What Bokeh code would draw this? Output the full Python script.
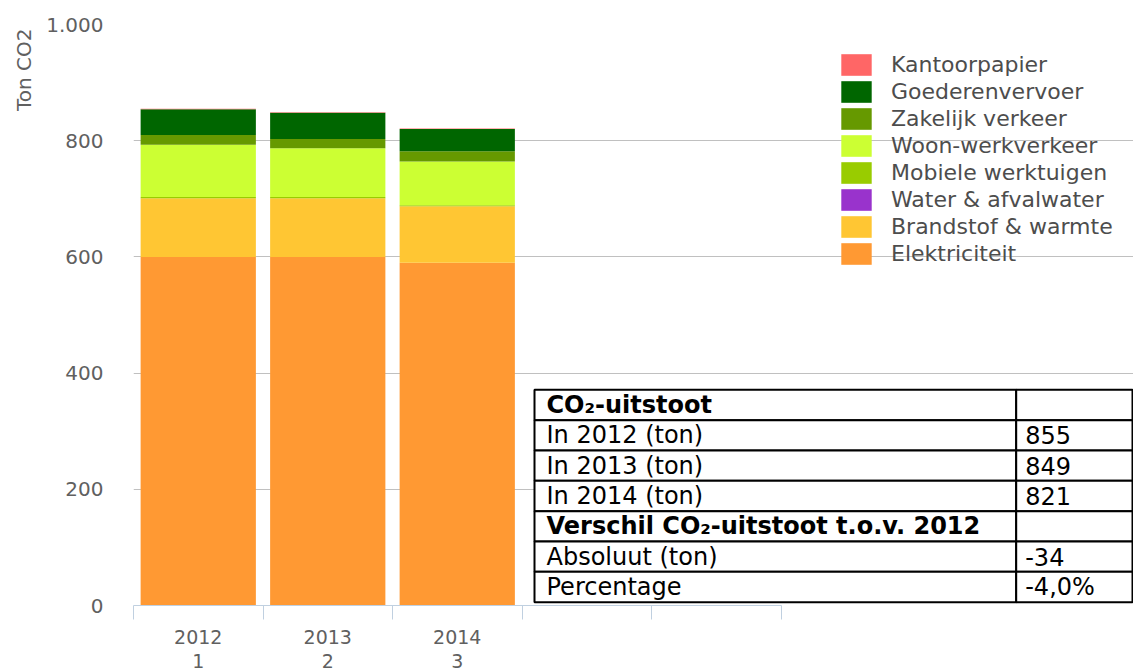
from bokeh.plotting import figure
from bokeh.models import (Range1d, FixedTicker, Legend, LegendItem, ColumnDataSource,
                          LinearAxis, Title)
from bokeh.core.properties import value
from bokeh.embed import file_html
from bokeh.resources import INLINE

# ---------------- data ----------------
years = ["2012", "2013", "2014"]
year_numbers = ["1", "2", "3"]
n_slots = 5

series = ["Elektriciteit", "Brandstof & warmte", "Water & afvalwater", "Mobiele werktuigen",
          "Woon-werkverkeer", "Zakelijk verkeer", "Goederenvervoer", "Kantoorpapier"]
elektriciteit = [600, 600, 590]
brandstof = [101, 101, 97]
water = [0, 0, 0]
mobiele = [2, 2, 2]
woon_werk = [90, 84, 75]
zakelijk = [17, 16, 18]
goederen = [44, 45, 38]
kantoorpapier = [1, 1, 1]
colors = ["#FF9933", "#FFC633", "#9933CC", "#99CC00",
          "#CCFF33", "#669900", "#006600", "#FF6666"]

y_ticks = [0, 200, 400, 600, 800, 1000]
y_tick_labels = ["0", "200", "400", "600", "800", "1.000"]
y_title = "Ton CO2"

table_labels = ["CO₂-uitstoot", "In 2012 (ton)", "In 2013 (ton)", "In 2014 (ton)",
                "Verschil CO₂-uitstoot t.o.v. 2012", "Absoluut (ton)", "Percentage"]
table_values = ["", "855", "849", "821", "", "-34", "-4,0%"]
table_bold = [True, False, False, False, True, False, False]

# ---------------- layout ----------------
W, H = 1133, 670
FRAME_L, FRAME_T = 133, 24
FRAME_B = 606
FRAME_H = FRAME_B - FRAME_T
PX_PER_CAT = 129.5
X_END = (W - FRAME_L) / PX_PER_CAT
Y_MAX = 1000
FONT = "DejaVu Sans"
AXIS_GREY = "#C0D0E0"
TEXT_GREY = "#606060"


def dx(px):
    return (px - FRAME_L) / PX_PER_CAT


def dy(py):
    return (FRAME_B - py) / FRAME_H * Y_MAX


p = figure(width=W, height=H, output_backend="svg", toolbar_location=None,
           x_range=Range1d(0, X_END), y_range=Range1d(0, Y_MAX),
           min_border_left=FRAME_L, min_border_top=FRAME_T,
           min_border_bottom=H - FRAME_B, min_border_right=0)
p.outline_line_color = None
p.background_fill_color = "white"

# bars
x_pos = [i + 0.5 for i in range(len(years))]
src = ColumnDataSource(dict(x=x_pos, **{
    "Elektriciteit": elektriciteit, "Brandstof & warmte": brandstof,
    "Water & afvalwater": water, "Mobiele werktuigen": mobiele,
    "Woon-werkverkeer": woon_werk, "Zakelijk verkeer": zakelijk,
    "Goederenvervoer": goederen, "Kantoorpapier": kantoorpapier}))
renderers = p.vbar_stack(series, x="x", width=0.89, source=src, color=colors,
                         line_color=None)

# x axis (year labels)
xa = p.xaxis[0]
xa.ticker = FixedTicker(ticks=x_pos, minor_ticks=list(range(n_slots + 1)))
xa.major_label_overrides = {x: y for x, y in zip(x_pos, years)}
xa.bounds = (0, n_slots)
xa.axis_line_color = AXIS_GREY
xa.major_tick_line_color = None
xa.major_tick_out = 0
xa.minor_tick_line_color = AXIS_GREY
xa.minor_tick_out = 14
xa.minor_tick_in = 0
xa.major_label_standoff = 10
xa.major_label_text_font = FONT
xa.major_label_text_font_size = "19px"
xa.major_label_text_color = TEXT_GREY

# second line of category labels
xa2 = LinearAxis(ticker=FixedTicker(ticks=x_pos, minor_ticks=[]),
                 major_label_overrides={x: n for x, n in zip(x_pos, year_numbers)})
xa2.axis_line_color = None
xa2.major_tick_line_color = None
xa2.minor_tick_line_color = None
xa2.major_tick_out = 0
xa2.major_tick_in = 0
xa2.major_label_standoff = 7
xa2.major_label_text_font = FONT
xa2.major_label_text_font_size = "19px"
xa2.major_label_text_color = TEXT_GREY
p.add_layout(xa2, "below")

# y axis
ya = p.yaxis[0]
ya.ticker = FixedTicker(ticks=y_ticks, minor_ticks=[])
ya.major_label_overrides = {t: l for t, l in zip(y_ticks, y_tick_labels)}
ya.axis_line_color = None
ya.major_tick_line_color = None
ya.minor_tick_line_color = None
ya.major_tick_out = 0
ya.major_label_standoff = 30
ya.major_label_text_font = FONT
ya.major_label_text_font_size = "20px"
ya.major_label_text_color = TEXT_GREY

# y axis title near the top, like the original
p.add_layout(Title(text=y_title, align="right", offset=4, standoff=16,
                   text_font=FONT, text_font_size="20px", text_font_style="normal",
                   text_color=TEXT_GREY), "left")

p.xgrid.visible = False
p.ygrid.grid_line_color = "#C0C0C0"
p.ygrid.bounds = (0, n_slots)

# legend
items = [LegendItem(label=s, renderers=[r]) for s, r in zip(series, renderers)][::-1]
legend = Legend(items=items, location=(704, 338), padding=0, margin=0, spacing=0,
                glyph_width=38, glyph_height=27, label_height=27, label_standoff=16,
                label_text_font=FONT, label_text_font_size="22px",
                label_text_color="#4D4D4D", background_fill_alpha=0,
                border_line_alpha=0)
p.add_layout(legend)

# table
T_L, T_D, T_R, T_T, T_B = 534, 1015.7, 1132, 390, 602.7
n_rows = len(table_labels)
row_h = (T_B - T_T) / n_rows
tops, bottoms, lefts, rights = [], [], [], []
for i in range(n_rows):
    for (l, r) in ((T_L, T_D), (T_D, T_R)):
        tops.append(dy(T_T + i * row_h))
        bottoms.append(dy(T_T + (i + 1) * row_h))
        lefts.append(dx(l))
        rights.append(dx(r))
p.quad(left=lefts, right=rights, top=tops, bottom=bottoms, fill_color="white",
       line_color="black", line_width=2)

centers = [dy(T_T + (i + 0.5) * row_h) for i in range(n_rows)]
styles = ["bold" if b else "normal" for b in table_bold]
tsrc = ColumnDataSource(dict(x=[dx(T_L + 12)] * n_rows, y=centers, text=table_labels,
                             style=styles))
p.text(x="x", y="y", text="text", source=tsrc, text_font=value(FONT),
       text_font_size="24px", text_font_style="style", text_baseline="middle",
       text_color="black")
vsrc = ColumnDataSource(dict(x=[dx(T_D + 9)] * n_rows, y=centers, text=table_values))
p.text(x="x", y="y", text="text", source=vsrc, text_font=value(FONT),
       text_font_size="24px", text_baseline="middle", text_color="black")

open("out.html", "w").write(file_html(p, INLINE))
